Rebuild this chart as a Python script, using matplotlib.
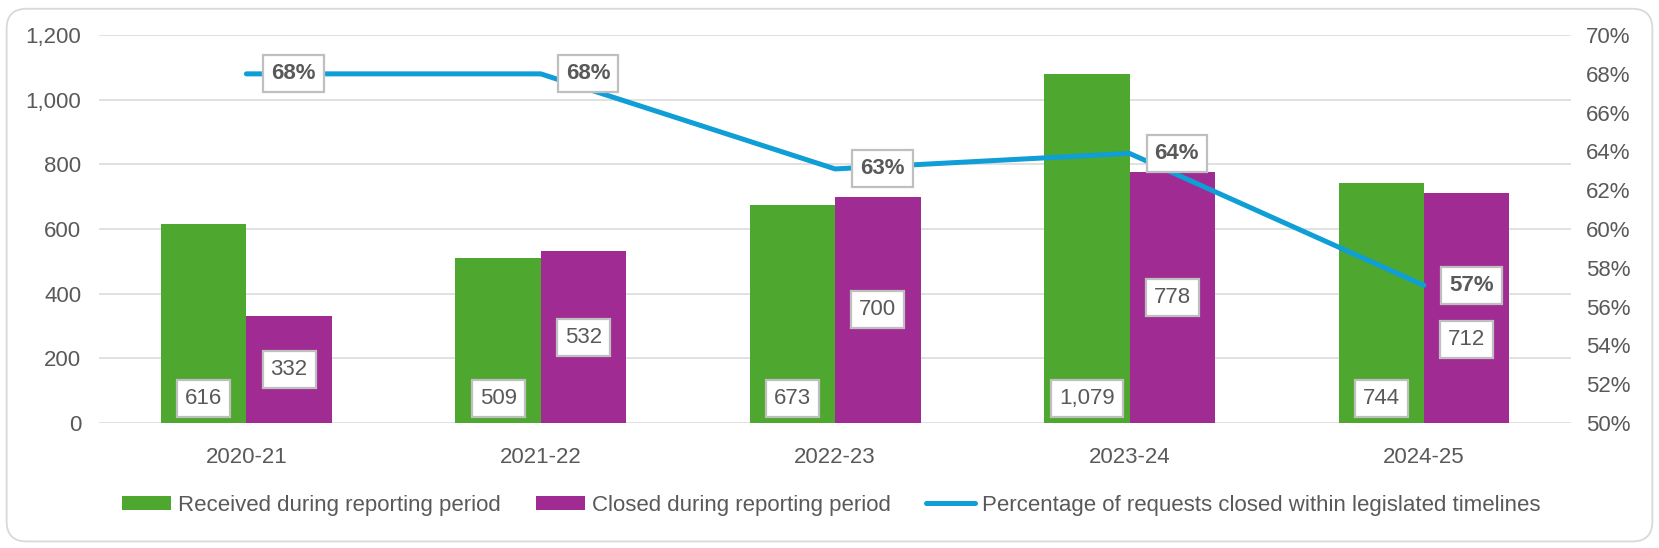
import numpy as np
import matplotlib.pyplot as plt
from matplotlib.patches import FancyBboxPatch

plt.rcParams['font.family'] = ['Liberation Sans', 'DejaVu Sans']

# === Data ===
years = ['2020-21', '2021-22', '2022-23', '2023-24', '2024-25']
received = [616, 509, 673, 1079, 744]
closed = [332, 532, 700, 778, 712]
pct_on_time = [68.0, 68.0, 63.1, 63.9, 57.1]

# === Styles ===
GREEN = '#4EA72E'
PURPLE = '#A02B93'
BLUE = '#0F9ED5'
TXT = '#595959'
GRID = '#D9D9D9'
FS = 16
BOX = dict(boxstyle='square,pad=0.36', fc='white', ec='#BFBFBF', lw=1.6)

fig = plt.figure(figsize=(16.59, 5.48), dpi=100)
ax = fig.add_axes([0.0598, 0.228, 0.8872, 0.708])
ax2 = ax.twinx()

x = np.arange(len(years))
w = 0.29
b1 = ax.bar(x - w / 2, received, w, color=GREEN, label='Received during reporting period', zorder=2)
b2 = ax.bar(x + w / 2, closed, w, color=PURPLE, label='Closed during reporting period', zorder=2)

# bar labels: received at inside base, closed at centre (last one moved down under the 57% label)
for xi, v in zip(x - w / 2, received):
    ax.annotate(f'{v:,}', (xi, 0), xytext=(0, 18), textcoords='offset points',
                ha='center', va='center', fontsize=FS, color=TXT, bbox=BOX, zorder=5)
closed_shift = [0, 0, 0, 0, -98]
for xi, v, dy in zip(x + w / 2, closed, closed_shift):
    ax.annotate(f'{v:,}', (xi, v / 2 + dy), ha='center', va='center',
                fontsize=FS, color=TXT, bbox=BOX, zorder=5)

ax.set_ylim(0, 1200)
ax.set_yticks(np.arange(0, 1201, 200))
ax.set_yticklabels([f'{t:,}' for t in range(0, 1201, 200)])
ax.set_xlim(-0.5, len(years) - 0.5)
ax.set_xticks(x)
ax.set_xticklabels(years)
ax.grid(axis='y', color=GRID, lw=1.1, zorder=0)
ax.set_axisbelow(True)
ax.tick_params(axis='y', length=0, pad=13, labelsize=FS, labelcolor=TXT)
ax.tick_params(axis='x', length=0, pad=17, labelsize=FS, labelcolor=TXT)
for s in ax.spines.values():
    s.set_visible(False)

# === Percentage line ===
ln, = ax2.plot(x, pct_on_time, color=BLUE, lw=3.6, solid_capstyle='round',
               solid_joinstyle='round', label='Percentage of requests closed within legislated timelines', zorder=3)
for xi, p in zip(x, pct_on_time):
    ax2.annotate(f'{p:.0f}%', (xi, p), xytext=(18, 0), textcoords='offset points',
                 ha='left', va='center', fontsize=FS, fontweight='bold', color=TXT, bbox=BOX, zorder=6)
ax2.set_ylim(50, 70)
ax2.set_yticks(np.arange(50, 71, 2))
ax2.set_yticklabels([f'{t}%' for t in range(50, 71, 2)])
ax2.tick_params(axis='y', length=0, pad=11, labelsize=FS, labelcolor=TXT)
for s in ax2.spines.values():
    s.set_visible(False)

# === Legend ===
fig.legend(handles=[b1, b2, ln], loc='center', bbox_to_anchor=(0.501, 0.078), ncol=3,
           frameon=False, fontsize=FS, labelcolor=TXT, handlelength=2.2, handleheight=0.6,
           handletextpad=0.3, columnspacing=1.6)

# outer rounded frame
fig.patches.append(FancyBboxPatch((0.004, 0.012), 0.992, 0.972, boxstyle='round,pad=0,rounding_size=0.012',
                                  transform=fig.transFigure, fc='none', ec=GRID, lw=1.3,
                                  mutation_aspect=1659 / 548))

fig.savefig('out.png', dpi=100)
